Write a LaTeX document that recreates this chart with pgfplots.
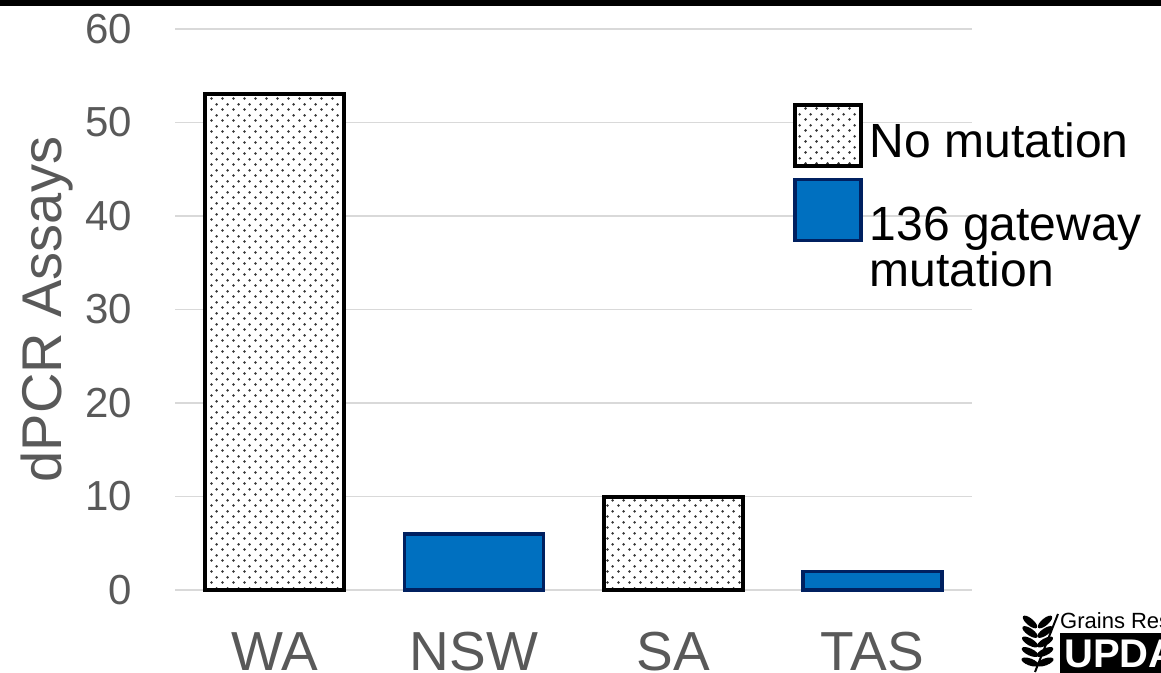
\documentclass[border=0pt]{standalone}
\usepackage{pgfplots}
\pgfplotsset{compat=1.18}
\usepackage{fontspec}
\setmainfont{Liberation Sans}
\usetikzlibrary{patterns}
\definecolor{tickgray}{HTML}{595959}
\definecolor{gridgray}{HTML}{D9D9D9}
\definecolor{barblue}{HTML}{0070C0}
\definecolor{edgeblue}{HTML}{002060}
\pgfdeclarepatternformonly{mydots}{\pgfpointorigin}{\pgfqpoint{11pt}{11pt}}{\pgfqpoint{11pt}{11pt}}{%
 \pgfpathcircle{\pgfqpoint{2.75pt}{2.75pt}}{1.5pt}%
 \pgfpathcircle{\pgfqpoint{8.25pt}{8.25pt}}{1.5pt}%
 \pgfusepath{fill}}
\pgfplotsset{
  boxlegA/.style={legend image code/.code={\draw[##1] (0pt,-25pt) rectangle (66pt,36pt);}},
  boxlegB/.style={legend image code/.code={\draw[##1,overlay] (0pt,7pt) rectangle (66pt,68pt);}},
}
\begin{document}
\begin{tikzpicture}
\useasboundingbox (0,0) rectangle (1161pt,672pt);
\fill[black] (0,666pt) rectangle (1161pt,672pt);
\begin{axis}[
  at={(175pt,82pt)}, anchor=south west,
  scale only axis, width=797pt, height=561pt,
  ybar, clip=false,
  xmin=-0.5, xmax=3.5, ymin=0, ymax=60,
  xtick={0,1,2,3}, xticklabels={WA,NSW,SA,TAS},
  ytick={0,10,20,30,40,50,60},
  axis line style={draw=none},
  tick style={draw=none},
  ymajorgrids, grid style={gridgray, line width=1.5pt},
  /pgf/number format/assume math mode=true,
  yticklabel style={font=\fontsize{42}{42}\selectfont, text=tickgray, inner sep=0pt, anchor=east, xshift=-43pt},
  xticklabel style={font=\fontsize{55}{55}\selectfont, text=tickgray, inner sep=0pt, anchor=base, yshift=-76pt},
  ylabel={dPCR Assays},
  ylabel style={font=\fontsize{56}{56}\selectfont, text=tickgray, inner sep=0pt, anchor=base, at={(axis description cs:-0.1418,0.5)}},
  legend style={at={(rel axis cs:0.775,0.868)}, anchor=north west, draw=none, fill=none,
     font=\fontsize{48}{39}\selectfont, inner sep=0pt, row sep=37pt, column sep=5pt,
     nodes={align=left}},
  legend cell align=left,
]
\addplot[bar shift=0pt, bar width=139pt, draw=black, line width=4pt, fill=white, postaction={pattern=mydots, pattern color=black!80}, boxlegA]
  coordinates {(0,53) (2,10)};
\addlegendentry{No mutation}
\addplot[bar shift=0pt, bar width=139pt, draw=edgeblue, line width=3.5pt, fill=barblue, boxlegB]
  coordinates {(1,6) (3,2)};
\addlegendentry{136 gateway\\mutation}
\end{axis}
\begin{scope}
\clip (0,0) rectangle (1161pt,672pt);
\fill[black] (1060pt,-2pt) rectangle (1165pt,39pt);
\node[anchor=base west, inner sep=0pt, text=white, font=\fontsize{40}{40}\bfseries\selectfont] at (1064pt,5pt) {UPDATE};
\node[anchor=base west, inner sep=0pt, text=black, font=\fontsize{22}{22}\selectfont] at (1060pt,44pt) {Grains Research};
\foreach \y/\a in {50/40,40/35,30/30,20/25,10/20}{
  \fill[black, rotate around={\a:(1045pt,\y pt)}] (1045pt,\y pt) ellipse (9pt and 3.5pt);
  \fill[black, rotate around={-\a:(1030pt,\y pt)}] (1030pt,\y pt) ellipse (9pt and 3.5pt);
}
\draw[black, line width=2pt] (1035pt,0pt) -- (1058pt,58pt);
\end{scope}
\end{tikzpicture}
\end{document}
